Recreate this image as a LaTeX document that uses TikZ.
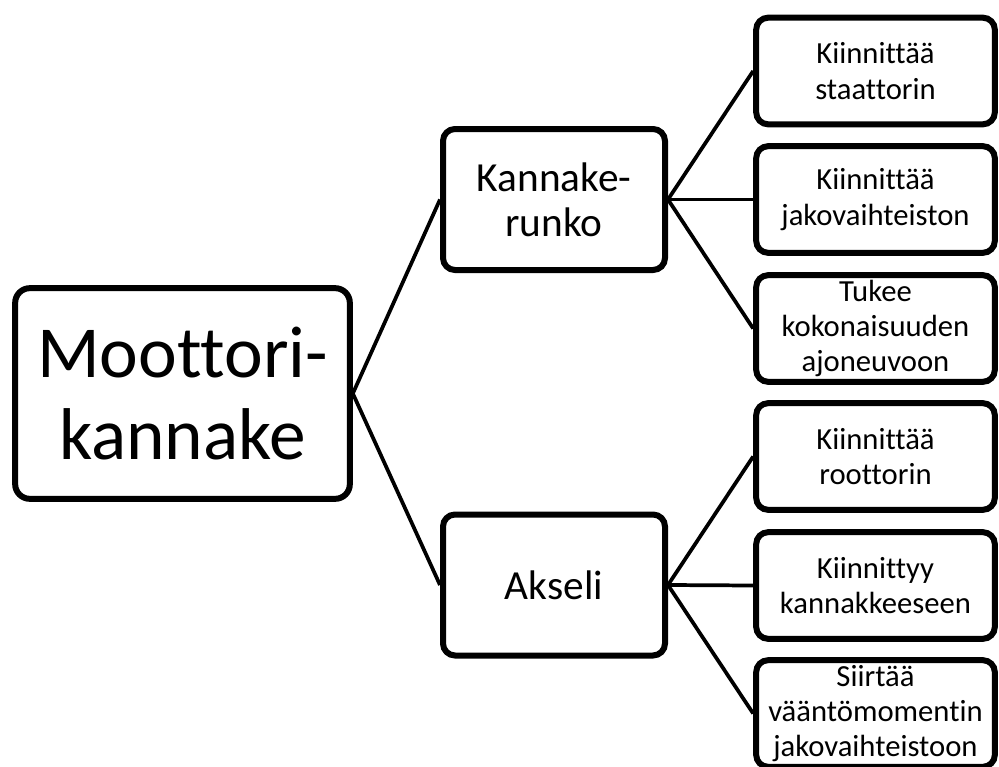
\documentclass[tikz,border=0pt]{standalone}
\usepackage{fontspec}
\setmainfont{Carlito}[Ligatures=NoCommon]
\usetikzlibrary{shadows}
\begin{document}
\begin{tikzpicture}[x=0.75pt, y=-0.75pt, every node/.style={align=center},
  box/.style={draw, line width=4.5pt, fill=white, inner sep=0pt,
    drop shadow={opacity=0.25, shadow xshift=1.5pt, shadow yshift=-1.5pt}},
  bigbox/.style={box, rounded corners=11pt, minimum width=251pt, minimum height=158pt,
    font=\fontsize{55}{62}\selectfont},
  midbox/.style={box, rounded corners=9pt, minimum width=166.5pt, minimum height=105.75pt,
    font=\fontsize{31}{34}\selectfont},
  leafbox/.style={box, rounded corners=9pt, minimum width=179pt, minimum height=80pt,
    font=\fontsize{23}{26.5}\selectfont},
  link/.style={line width=2.8pt}]
\useasboundingbox (0,0) rectangle (999,767);
\node[bigbox] (motor) at (182.5,393.5) {Moottori-\\kannake};
\node[midbox] (runko) at (554,199.5) {Kannake-\\runko};
\node[midbox] (akseli) at (554,585) {Akseli};
\node[leafbox] (stat) at (875.5,71) {Kiinnittää\\staattorin};
\node[leafbox] (jako) at (875.5,199.5) {Kiinnittää\\jakovaihteiston};
\node[leafbox] (tuki) at (875.5,328.5) {Tukee\\kokonaisuuden\\ajoneuvoon};
\node[leafbox] (root) at (875.5,456.5) {Kiinnittää\\roottorin};
\node[leafbox] (kann) at (875.5,585.5) {Kiinnittyy\\kannakkeeseen};
\node[leafbox] (siir) at (875.5,713.5) {Siirtää\\vääntömomentin\\jakovaihteistoon};
\foreach \a/\b in {motor/runko, motor/akseli, runko/stat, runko/jako, runko/tuki,
  akseli/root, akseli/kann, akseli/siir}
  \draw[link] (\a.east) -- (\b.west);
\end{tikzpicture}
\end{document}
